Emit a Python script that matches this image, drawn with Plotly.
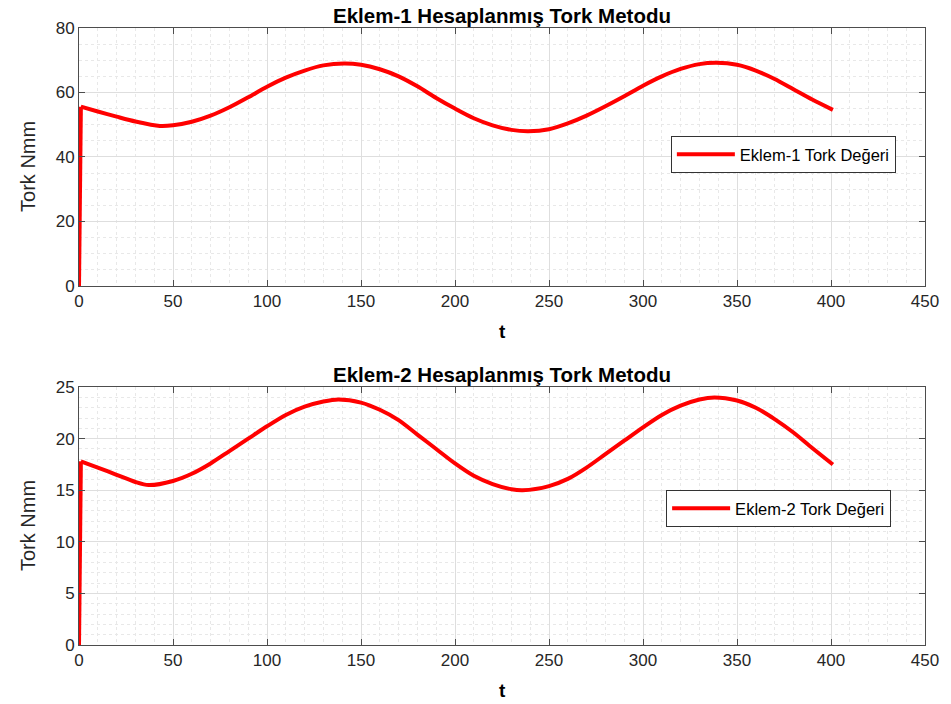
import plotly.graph_objects as go
from plotly.subplots import make_subplots

# Joint 1 computed torque (Nmm) over time t
t1 = [0, 1, 10, 20, 30, 43, 50, 60, 70, 80, 90, 100, 110, 120, 130, 141,
      150, 160, 170, 180, 190, 200, 210, 220, 230, 239,
      250, 260, 270, 280, 290, 300, 310, 320, 330, 339,
      350, 360, 370, 380, 390, 401]
tork1 = [0, 55.6, 54.1, 52.5, 51.0, 49.6, 49.8, 50.9, 52.8, 55.4, 58.5, 61.8, 64.6, 66.8, 68.4, 69.0,
         68.6, 67.2, 65.0, 61.9, 58.3, 55.0, 52.0, 49.8, 48.4, 48.0,
         48.6, 50.4, 52.8, 55.7, 58.8, 62.1, 65.0, 67.3, 68.8, 69.2,
         68.6, 66.8, 64.2, 61.0, 57.8, 54.6]

# Joint 2 computed torque (Nmm) over time t
t2 = [0, 1, 10, 20, 30, 37, 50, 60, 70, 80, 90, 100, 110, 120, 130, 138,
      150, 160, 170, 180, 190, 200, 210, 220, 230, 236,
      250, 260, 270, 280, 290, 300, 310, 320, 330, 338,
      350, 360, 370, 380, 390, 401]
tork2 = [0, 17.8, 17.2, 16.5, 15.8, 15.5, 15.9, 16.6, 17.6, 18.8, 20.0, 21.2, 22.3, 23.1, 23.6, 23.8,
         23.5, 22.8, 21.8, 20.4, 19.0, 17.6, 16.4, 15.6, 15.1, 15.0,
         15.4, 16.1, 17.2, 18.5, 19.8, 21.1, 22.3, 23.2, 23.8, 24.0,
         23.7, 23.0, 21.9, 20.6, 19.1, 17.5]

titles = ["Eklem-1 Hesaplanmış Tork Metodu", "Eklem-2 Hesaplanmış Tork Metodu"]
legend_names = ["Eklem-1 Tork Değeri", "Eklem-2 Tork Değeri"]
x_ticks = [0, 50, 100, 150, 200, 250, 300, 350, 400, 450]

FONT = "Liberation Sans, Arial, sans-serif"
AXC = "#262626"
RED = "#ff0000"

fig = make_subplots(rows=2, cols=1, vertical_spacing=0.164)

for row, (t, v, name, leg) in enumerate(
        [(t1, tork1, legend_names[0], "legend"), (t2, tork2, legend_names[1], "legend2")], start=1):
    # initial step from zero
    fig.add_trace(go.Scatter(x=t[:2], y=v[:2], mode="lines", showlegend=False,
                             line=dict(color=RED, width=4), legend=leg, hoverinfo="skip"),
                  row=row, col=1)
    # smooth torque response
    fig.add_trace(go.Scatter(x=t[1:], y=v[1:], mode="lines", name=name,
                             line=dict(color=RED, width=4, shape="spline", smoothing=0.8),
                             legend=leg),
                  row=row, col=1)

common_axis = dict(
    showline=True, linecolor="#4d4d4d", linewidth=1, mirror="ticks",
    ticks="inside", ticklen=6, tickcolor="#4d4d4d",
    showgrid=True, gridcolor="#dedede", gridwidth=1,
    zeroline=False,
    tickfont=dict(family=FONT, size=17, color=AXC),
)

for r in (1, 2):
    fig.update_xaxes(range=[0, 450], tickvals=x_ticks, row=r, col=1,
                     minor=dict(dtick=10, showgrid=True, gridcolor="#e8e8e8",
                                griddash="dot", ticks=""),
                     **common_axis)

fig.update_yaxes(range=[0, 80], dtick=20, row=1, col=1,
                 minor=dict(dtick=5, showgrid=True, gridcolor="#e8e8e8",
                            griddash="dot", ticks=""),
                 **common_axis)
fig.update_yaxes(range=[0, 25], dtick=5, row=2, col=1,
                 minor=dict(dtick=1, showgrid=True, gridcolor="#e8e8e8",
                            griddash="dot", ticks=""),
                 **common_axis)

legend_style = dict(xanchor="left", yanchor="top",
                    bgcolor="white", bordercolor="#333333", borderwidth=1,
                    font=dict(family=FONT, size=16.5, color="black"),
                    itemwidth=58)

fig.update_layout(
    width=951, height=704,
    margin=dict(l=79, r=23, t=28, b=59),
    paper_bgcolor="white", plot_bgcolor="white",
    showlegend=True,
    legend=dict(x=0.6996, y=0.825, **legend_style),
    legend2=dict(x=0.694, y=0.251, **legend_style),
)

# subplot titles and axis labels
y_top = fig.layout.yaxis.domain
y_bot = fig.layout.yaxis2.domain
ann = []
for title, dom in zip(titles, (y_top, y_bot)):
    ann.append(dict(text=f"<b>{title}</b>", x=0.5, y=dom[1], xref="paper", yref="paper",
                    xanchor="center", yanchor="bottom", yshift=-1, showarrow=False,
                    font=dict(family=FONT, size=20.5, color="black")))
    ann.append(dict(text="Tork Nmm", x=0, y=(dom[0] + dom[1]) / 2, xref="paper", yref="paper",
                    xanchor="center", yanchor="middle", xshift=-51, yshift=-10, textangle=-90,
                    showarrow=False, font=dict(family=FONT, size=20, color=AXC)))
    ann.append(dict(text="<b>t</b>", x=0.5, y=dom[0], xref="paper", yref="paper",
                    xanchor="center", yanchor="top", yshift=-33, showarrow=False,
                    font=dict(family=FONT, size=19, color="black")))
fig.update_layout(annotations=ann)

fig.write_html("out.html")
